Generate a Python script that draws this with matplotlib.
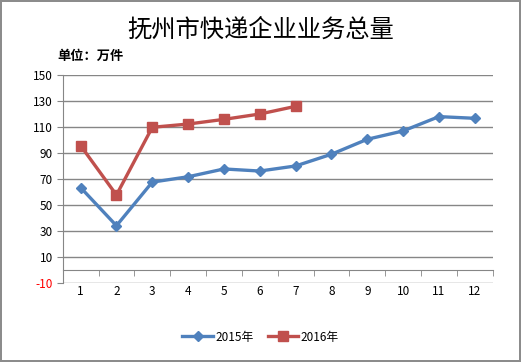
import numpy as np
import matplotlib
matplotlib.use('Agg')
import matplotlib.pyplot as plt

plt.rcParams['font.family'] = ['Noto Sans CJK SC', 'DejaVu Sans']

# data
months = [1, 2, 3, 4, 5, 6, 7, 8, 9, 10, 11, 12]
y2015 = [63.3, 34.0, 67.5, 71.6, 77.6, 76.0, 79.9, 88.9, 100.4, 106.8, 117.8, 116.5]
months2016 = [1, 2, 3, 4, 5, 6, 7]
y2016 = [95.5, 57.6, 109.6, 112.1, 115.7, 119.8, 125.7]
yticks = list(range(-10, 151, 20))
title = '抚州市快递企业业务总量'
unit = '单位：万件'
labels = ['2015年', '2016年']

W, H = 521, 362
fig = plt.figure(figsize=(W / 100, H / 100), dpi=100)
fig.patch.set_edgecolor('#8c8c8c')
fig.patch.set_linewidth(1.5)

ax = fig.add_axes([62.7 / W, 1 - 283 / H, 430 / W, (283 - 74.7) / H])

blue = '#4F81BD'
red = '#C0504D'
grid_c = '#868686'

ax.plot(months, y2015, color=blue, lw=2.4, marker='D', ms=5.5, label=labels[0])
ax.plot(months2016, y2016, color=red, lw=2.4, marker='s', ms=7, label=labels[1])

ax.set_xlim(0.5, 12.5)
ax.set_ylim(-10, 150)
ax.set_yticks(yticks)
ax.set_xticks(months)
ax.set_xticks(np.arange(0.5, 13, 1), minor=True)
ax.set_axisbelow(True)
ax.yaxis.grid(True, color=grid_c, lw=1)

for s in ['top', 'right']:
    ax.spines[s].set_visible(False)
ax.spines['bottom'].set_position(('data', 0))
ax.spines['bottom'].set_color(grid_c)
ax.spines['left'].set_color(grid_c)

ax.tick_params(axis='x', which='major', length=0, pad=11, labelsize=8.5)
ax.tick_params(axis='x', which='minor', length=4, color=grid_c, direction='out')
ax.tick_params(axis='y', length=4, color=grid_c, pad=3, labelsize=8.5)
ax.set_yticklabels([str(v) for v in yticks])
ax.get_yticklabels()[0].set_color('red')

fig.text(0.5, 1 - 30 / H, title, ha='center', va='center', fontsize=17.5, fontweight='medium')
fig.text(57 / W, 1 - 56 / H, unit, ha='left', va='center', fontsize=9.5, fontweight='bold')

fig.legend(loc='center', bbox_to_anchor=(0.5, 1 - 337 / H), ncol=2, frameon=False,
           fontsize=8.5, handlelength=2.6, handletextpad=0.2, columnspacing=1.2)

fig.savefig('out.png', dpi=100)
